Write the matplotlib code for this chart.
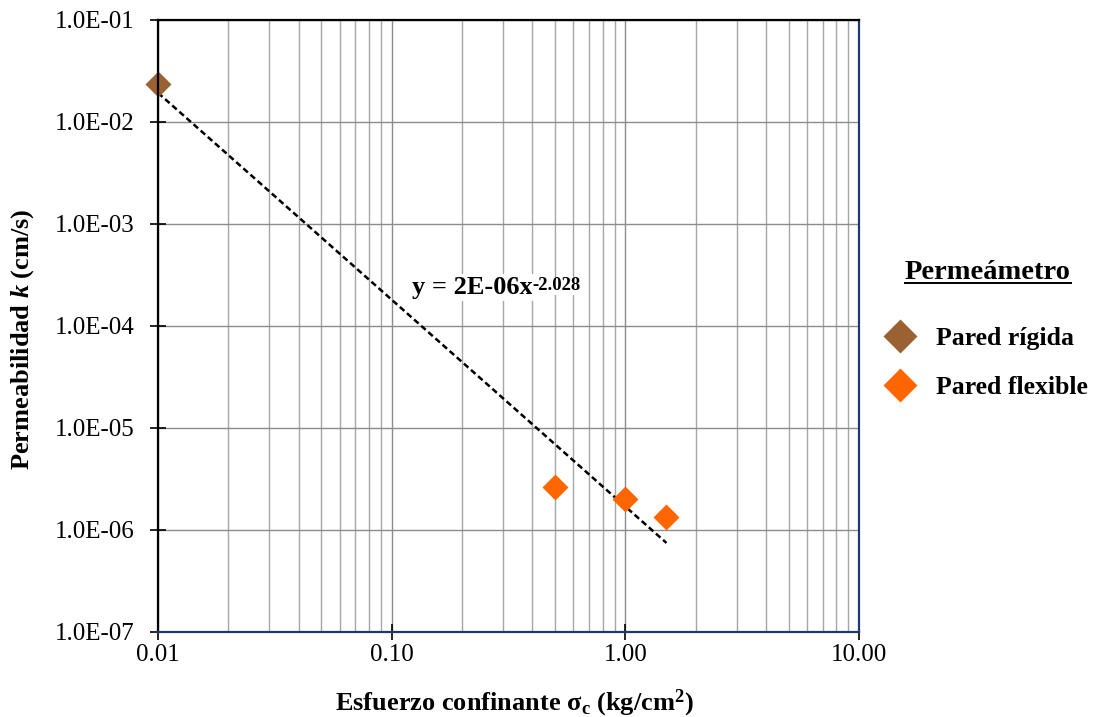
import numpy as np
import matplotlib
matplotlib.use("Agg")
import matplotlib.pyplot as plt
from matplotlib.lines import Line2D
from matplotlib.transforms import IdentityTransform
from matplotlib.ticker import FixedLocator, LogLocator, NullFormatter

plt.rcParams["font.family"] = ["Liberation Serif", "DejaVu Serif"]
plt.rcParams["mathtext.fontset"] = "custom"
plt.rcParams["mathtext.rm"] = "Liberation Serif:bold"
plt.rcParams["mathtext.bf"] = "Liberation Serif:bold"
plt.rcParams["mathtext.it"] = "Liberation Serif:bold:italic"

# Confining stress (kg/cm2) and permeability (cm/s)
rigid_x = [0.01]
rigid_k = [2.35e-2]
flex_x = [0.5, 1.0, 1.5]
flex_k = [2.62e-6, 2.0e-6, 1.34e-6]

x_ticks = [0.01, 0.1, 1.0, 10.0]
x_labels = ["0.01", "0.10", "1.00", "10.00"]
y_ticks = [1e-7, 1e-6, 1e-5, 1e-4, 1e-3, 1e-2, 1e-1]
y_labels = ["1.0E-07", "1.0E-06", "1.0E-05", "1.0E-04", "1.0E-03", "1.0E-02", "1.0E-01"]

series_names = ["Pared rígida", "Pared flexible"]
series_colors = ["#9A6232", "#FF6600"]
legend_title = "Permeámetro"
equation = "y = 2E-06x"
equation_exp = "-2.028"

W, H = 1096, 717
fig = plt.figure(figsize=(W / 100, H / 100), dpi=100)
L, R, T, B = 158, 859, 20, 631.5
ax = fig.add_axes([L / W, 1 - B / H, (R - L) / W, (B - T) / H])

ax.set_xscale("log")
ax.set_yscale("log")
ax.set_xlim(0.01, 10)
ax.set_ylim(1e-7, 1e-1)

# Power-law trend line fitted to all measurements
all_x = np.array(rigid_x + flex_x)
all_k = np.array(rigid_k + flex_k)
slope, intercept = np.polyfit(np.log10(all_x), np.log10(all_k), 1)
tx = np.logspace(np.log10(all_x.min()), np.log10(all_x.max()), 50)
ax.plot(tx, 10 ** intercept * tx ** slope, color="black", lw=1.8,
        linestyle=(0, (2.4, 1.4)), zorder=3)

ms = 13.5
ax.plot(rigid_x, rigid_k, linestyle="none", marker="D", ms=ms,
        color=series_colors[0], mec="none", label=series_names[0],
        zorder=4, clip_on=False)
ax.plot(flex_x, flex_k, linestyle="none", marker="D", ms=ms,
        color=series_colors[1], mec="none", label=series_names[1], zorder=4)

# Ticks and grid
ax.xaxis.set_major_locator(FixedLocator(x_ticks))
ax.set_xticklabels(x_labels)
ax.xaxis.set_minor_locator(LogLocator(base=10, subs=np.arange(2, 10), numticks=20))
ax.xaxis.set_minor_formatter(NullFormatter())
ax.yaxis.set_major_locator(FixedLocator(y_ticks))
ax.set_yticklabels(y_labels)
ax.yaxis.set_minor_locator(FixedLocator([]))

ax.tick_params(axis="both", which="major", direction="inout", length=12,
               width=1.2, color="black", labelsize=18)
ax.tick_params(axis="y", which="major", pad=11)
ax.tick_params(axis="x", which="major", pad=3)
ax.tick_params(axis="x", which="minor", length=0)

ax.grid(True, which="major", axis="both", color="#8C8C8C", lw=1.0)
ax.grid(True, which="minor", axis="x", color="#A6A6A6", lw=1.0)
ax.set_axisbelow(True)

for side, col in [("left", "black"), ("top", "black"),
                  ("bottom", "#1F3870"), ("right", "#1F3870")]:
    ax.spines[side].set_color(col)
    ax.spines[side].set_linewidth(1.6)
    ax.spines[side].set_zorder(5)

ax.set_xlabel(r"Esfuerzo confinante $\mathrm{\sigma}_{\mathrm{c}}$ (kg/cm$^{2}$)",
              fontsize=19, fontweight="bold", va="center")
ax.xaxis.set_label_coords(0.508, -0.117)
ax.set_ylabel(r"Permeabilidad $k$ (cm/s)", fontsize=19, fontweight="bold",
              va="center", ha="center")
ax.yaxis.set_label_coords(-0.193, 0.478)

# Trend equation
eq = ax.text(412, H - 294, equation, transform=IdentityTransform(), fontsize=19,
             fontweight="bold", ha="left", va="baseline",
             bbox=dict(facecolor="white", edgecolor="none", pad=1.5), zorder=6)
ax.annotate(equation_exp, xy=(1, 1), xycoords=eq, xytext=(0, -1),
            textcoords="offset points", fontsize=13.5, fontweight="bold",
            ha="left", va="top", zorder=6,
            bbox=dict(facecolor="white", edgecolor="none", pad=0.5))

# Legend
leg = ax.legend(loc="upper left", bbox_to_anchor=(877 / W, 1 - 250 / H),
                bbox_transform=fig.transFigure, frameon=False,
                title=legend_title, prop=dict(size=18.5, weight="bold"),
                title_fontproperties=dict(size=20.5, weight="bold"),
                markerscale=1.3, handletextpad=0.9, labelspacing=1.0,
                handlelength=1.0, borderaxespad=0)
leg._legend_box.sep = 30
leg.set_clip_on(False)

fig.canvas.draw()
tb = leg.get_title().get_window_extent(fig.canvas.get_renderer())
fig.add_artist(Line2D([tb.x0 / W, tb.x1 / W], [(tb.y0 + 2) / H, (tb.y0 + 2) / H],
                      transform=fig.transFigure, color="black", lw=1.4))

fig.savefig("out.png", dpi=100)
